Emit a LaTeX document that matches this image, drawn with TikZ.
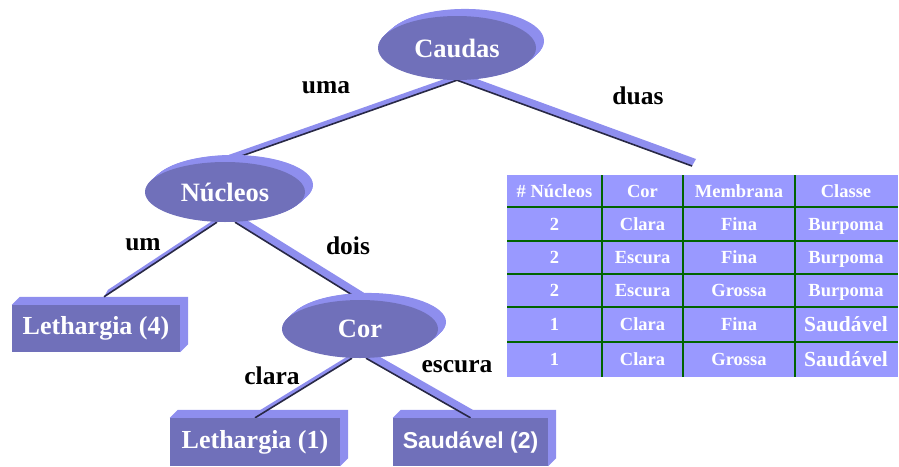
\documentclass[tikz,border=0pt]{standalone}
\usepackage{fontspec}
\setmainfont{Liberation Serif}
\newfontfamily\sansb{Liberation Sans}
\usetikzlibrary{shapes.geometric,calc}
\pgfdeclarelayer{boxside}
\pgfdeclarelayer{ribbonlayer}
\pgfdeclarelayer{ovalside}
\pgfsetlayers{boxside,ribbonlayer,ovalside,main}
\definecolor{frontc}{RGB}{112,112,186}
\definecolor{sidec}{RGB}{142,142,238}
\definecolor{tabfill}{RGB}{153,153,255}
\definecolor{tabline}{RGB}{0,100,0}
\definecolor{edgec}{RGB}{40,40,70}
\tikzset{
 oval/.style={ellipse, fill=frontc, inner sep=0pt, text=white, font=\fontsize{26.5}{28}\selectfont\bfseries},
 leaf/.style={rectangle, fill=frontc, inner sep=0pt, text=white, font=\fontsize{26}{28}\selectfont\bfseries},
 lbl/.style={font=\fontsize{25.5}{28}\selectfont\bfseries, text=black, inner sep=0pt},
 cell/.style={font=\fontsize{18.5}{20}\selectfont\bfseries, text=white, inner sep=0pt, anchor=base, yshift=-6pt},
 bigcell/.style={font=\fontsize{21.5}{22}\selectfont\bfseries, text=white, inner sep=0pt, anchor=base, yshift=-7pt},
 ribbonedge/.style={draw=edgec, line width=1.6pt},
 tabrule/.style={draw=tabline, line width=1.8pt},
}
\newcommand\ovalnode[6]{%
 \begin{pgfonlayer}{ovalside}
 \foreach \i in {1,...,16}{\fill[sidec] ({#2+\i*0.5},{#3-\i*0.44}) ellipse[x radius=#4pt,y radius=#5pt];}
 \end{pgfonlayer}
 \node[oval, minimum width=#4*2pt, minimum height=#5*2pt] (#1) at (#2,#3) {#6};}
\newcommand\boxnode[6]{%
 \node[leaf, minimum width=#4pt, minimum height=#5pt] (#1) at (#2,#3) {#6};
 \begin{pgfonlayer}{boxside}
 \fill[sidec] (#1.north west) -- ([shift={(8,-8)}]#1.north west) -- ([shift={(8,-8)}]#1.north east)
   -- ([shift={(8,-8)}]#1.south east) -- (#1.south east) -- (#1.north east) -- cycle;
 \end{pgfonlayer}}
\newcommand\ribbon[2]{%
 \begin{pgfonlayer}{ribbonlayer}
 \fill[sidec] (#1) -- (#2) -- ($(#2)+(4,-7)$) -- ($(#1)+(4,-7)$) -- cycle;
 \draw[ribbonedge] (#1) -- (#2);
 \end{pgfonlayer}}
\begin{document}
\begin{tikzpicture}[x=1pt,y=-1pt]
\useasboundingbox (0,0) rectangle (899,466);
% tree nodes
\ovalnode{caudas}{457}{48}{79}{32}{Caudas}
\ovalnode{nucleos}{225}{192}{80}{30}{Núcleos}
\ovalnode{cor}{360}{329}{78}{29}{Cor}
\boxnode{leth4}{96}{328.5}{168}{47}{Lethargia (4)}
\boxnode{leth1}{255}{442}{170}{48}{Lethargia (1)}
\boxnode{saud2}{470.5}{442}{155}{48}{{\fontsize{23}{26}\selectfont\sansb\bfseries Saudável (2)}}
\coordinate (duasend) at (692,166);
% connectors
\ribbon{caudas.south}{nucleos.north}
\ribbon{caudas.south}{duasend}
\ribbon{[shift={(-8,0)}]nucleos.south}{[shift={(8,-8)}]leth4.north}
\ribbon{[shift={(10,0)}]nucleos.south}{cor.north}
\ribbon{[shift={(-8,0)}]cor.south}{leth1.north}
\ribbon{[shift={(6,0)}]cor.south}{saud2.north}
% labels
\node[lbl] (luma) at (326,88) {uma};
\node[lbl] (lduas) at (638,96) {duas};
\node[lbl] (lum) at (143,245) {um};
\node[lbl] (ldois) at (348,246) {dois};
\node[lbl] (lclara) at (272,376) {clara};
\node[lbl] (lescura) at (457,367) {escura};
% table
\fill[tabfill] (507,175) rectangle (898,377);
\foreach \yy in {207,241,274,307,342}{\draw[tabrule] (507,\yy) -- (898,\yy);}
\foreach \xx in {602,683,795}{\draw[tabrule] (\xx,175) -- (\xx,377);}
\node[cell] (h1) at (554.5,191) {\# Núcleos};
\node[cell] (h2) at (642.5,191) {Cor};
\node[cell] (h3) at (739,191) {Membrana};
\node[cell] (h4) at (846,191) {Classe};
\node[cell] at (554.5,224) {2};
\node[cell] at (642.5,224) {Clara};
\node[cell] at (739,224) {Fina};
\node[cell] at (846,224) {Burpoma};
\node[cell] at (554.5,257.5) {2};
\node[cell] at (642.5,257.5) {Escura};
\node[cell] at (739,257.5) {Fina};
\node[cell] at (846,257.5) {Burpoma};
\node[cell] at (554.5,290.5) {2};
\node[cell] at (642.5,290.5) {Escura};
\node[cell] at (739,290.5) {Grossa};
\node[cell] at (846,290.5) {Burpoma};
\node[cell] at (554.5,324.5) {1};
\node[cell] at (642.5,324.5) {Clara};
\node[cell] at (739,324.5) {Fina};
\node[bigcell] at (846,324.5) {Saudável};
\node[cell] at (554.5,359.5) {1};
\node[cell] at (642.5,359.5) {Clara};
\node[cell] at (739,359.5) {Grossa};
\node[bigcell] at (846,359.5) {Saudável};
\end{tikzpicture}
\end{document}
